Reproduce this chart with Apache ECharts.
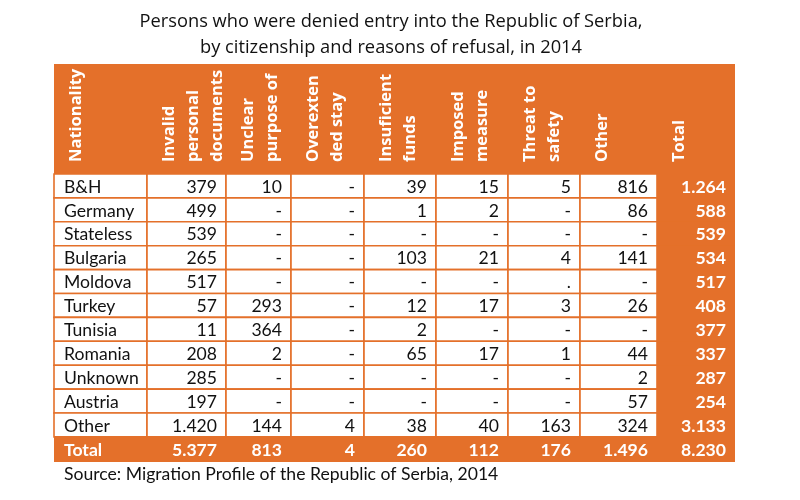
<!DOCTYPE html>
<html>
<head>
<meta charset="utf-8">
<script src="https://cdn.jsdelivr.net/npm/echarts@6/dist/echarts.min.js"></script>
<style>
html, body { margin: 0; padding: 0; background: #fff; }
#main { width: 800px; height: 500px; }
</style>
</head>
<body>
<div id="main"></div>
<script>
// texts
var titleLines = ['Persons who were denied entry into the Republic of Serbia,', 'by citizenship and reasons of refusal, in 2014'];
var sourceNote = 'Source: Migration Profile of the Republic of Serbia, 2014';
var columnHeaders = ['Nationality', 'Invalid\npersonal\ndocuments', 'Unclear\npurpose of\n  .', 'Overexten\nded stay',
	'Insuficient\nfunds', 'Imposed\nmeasure', 'Threat to\nsafety', 'Other', 'Total'];

// table values, as printed ("-" = none)
var nationalities = ['B&H', 'Germany', 'Stateless', 'Bulgaria', 'Moldova', 'Turkey', 'Tunisia', 'Romania', 'Unknown', 'Austria', 'Other'];
var invalidDocuments = ['379', '499', '539', '265', '517', '57', '11', '208', '285', '197', '1.420'];
var unclearPurpose = ['10', '-', '-', '-', '-', '293', '364', '2', '-', '-', '144'];
var overextendedStay = ['-', '-', '-', '-', '-', '-', '-', '-', '-', '-', '4'];
var insufficientFunds = ['39', '1', '-', '103', '-', '12', '2', '65', '-', '-', '38'];
var imposedMeasure = ['15', '2', '-', '21', '-', '17', '-', '17', '-', '-', '40'];
var threatToSafety = ['5', '-', '-', '4', '.', '3', '-', '1', '-', '-', '163'];
var otherReasons = ['816', '86', '-', '141', '-', '26', '-', '44', '2', '57', '324'];
var rowTotals = ['1.264', '588', '539', '534', '517', '408', '377', '337', '287', '254', '3.133'];
var totalLabel = 'Total';
var columnTotals = ['5.377', '813', '4', '260', '112', '176', '1.496', '8.230'];

var ORANGE = '#E4702A';

// layout of the table inside the grid (px)
var colWidths = [93, 79, 65, 73, 72, 72, 72, 77, 78];
var headerHeight = 110, rowHeight = 23.9, totalRowHeight = 25;

var colEdges = [0];
colWidths.forEach(function (w) { colEdges.push(colEdges[colEdges.length - 1] + w); });
var rowEdges = [0, headerHeight];
nationalities.forEach(function () { rowEdges.push(rowEdges[rowEdges.length - 1] + rowHeight); });
rowEdges.push(rowEdges[rowEdges.length - 1] + totalRowHeight);

// build cell list: row 0 = header, 1..n = body, n+1 = totals
var bodyColumns = [nationalities, invalidDocuments, unclearPurpose, overextendedStay, insufficientFunds,
	imposedMeasure, threatToSafety, otherReasons, rowTotals];
var cells = [];
columnHeaders.forEach(function (t, c) { cells.push({ col: c, row: 0, text: t, kind: 'header' }); });
nationalities.forEach(function (n, r) {
	bodyColumns.forEach(function (arr, c) {
		cells.push({ col: c, row: r + 1, text: arr[r], kind: c == bodyColumns.length - 1 ? 'total' : 'body' });
	});
});
[totalLabel].concat(columnTotals).forEach(function (t, c) {
	cells.push({ col: c, row: nationalities.length + 1, text: t, kind: 'total' });
});

var renderCell = function (params, api) {
	var cell = cells[params.dataIndex];
	var p0 = api.coord([colEdges[cell.col], rowEdges[cell.row]]);
	var p1 = api.coord([colEdges[cell.col + 1], rowEdges[cell.row + 1]]);
	var x = p0[0], y = p0[1], w = p1[0] - p0[0], h = p1[1] - p0[1];
	var children = [];
	if (cell.kind == 'body') {
		children.push({ type: 'rect', shape: { x: x, y: y, width: w, height: h },
			style: { fill: '#fff', stroke: ORANGE, lineWidth: 1.6 } });
	} else {
		children.push({ type: 'rect', shape: { x: x, y: y, width: w, height: h },
			style: { fill: ORANGE } });
	}
	if (cell.kind == 'header') {
		children.push({ type: 'text', x: x + 10, y: y + h - 12, rotation: Math.PI / 2,
			style: { text: cell.text, fill: '#fff', font: 'bold 16.5px "Open Sans"', lineHeight: 24,
				align: 'left', verticalAlign: 'top' } });
	} else {
		var leftCol = cell.col == 0;
		children.push({ type: 'text', x: leftCol ? x + 10 : x + w - 9, y: y + h / 2 + 1,
			style: { text: cell.text, fill: cell.kind == 'total' ? '#fff' : '#111',
				font: (cell.kind == 'total' ? 'bold ' : '') + '17.6px Lato',
				align: leftCol ? 'left' : 'right', verticalAlign: 'middle' } });
	}
	return { type: 'group', children: children };
};

var myChart = echarts.init(document.getElementById('main'), null, { renderer: 'canvas' });
var option = {
	animation: false,
	grid: { left: 54, top: 64, width: colEdges[colEdges.length - 1], height: rowEdges[rowEdges.length - 1],
		show: true, backgroundColor: ORANGE, borderWidth: 0 },
	xAxis: { type: 'value', min: 0, max: colEdges[colEdges.length - 1], show: false },
	yAxis: { type: 'value', min: 0, max: rowEdges[rowEdges.length - 1], inverse: true, show: false },
	graphic: [
		{ type: 'text', x: 391, y: 9, style: { text: titleLines.join('\n'), font: '18.3px "Open Sans"', lineHeight: 26,
			fill: '#111', align: 'center', verticalAlign: 'top' } },
		{ type: 'text', x: 64, y: 474, style: { text: sourceNote, font: '17.6px Lato', fill: '#111',
			align: 'left', verticalAlign: 'middle' } }
	],
	series: [{
		type: 'custom',
		clip: false,
		renderItem: renderCell,
		data: cells.map(function (c) { return [c.col, c.row]; })
	}]
};
myChart.setOption(option);
</script>
</body>
</html>
